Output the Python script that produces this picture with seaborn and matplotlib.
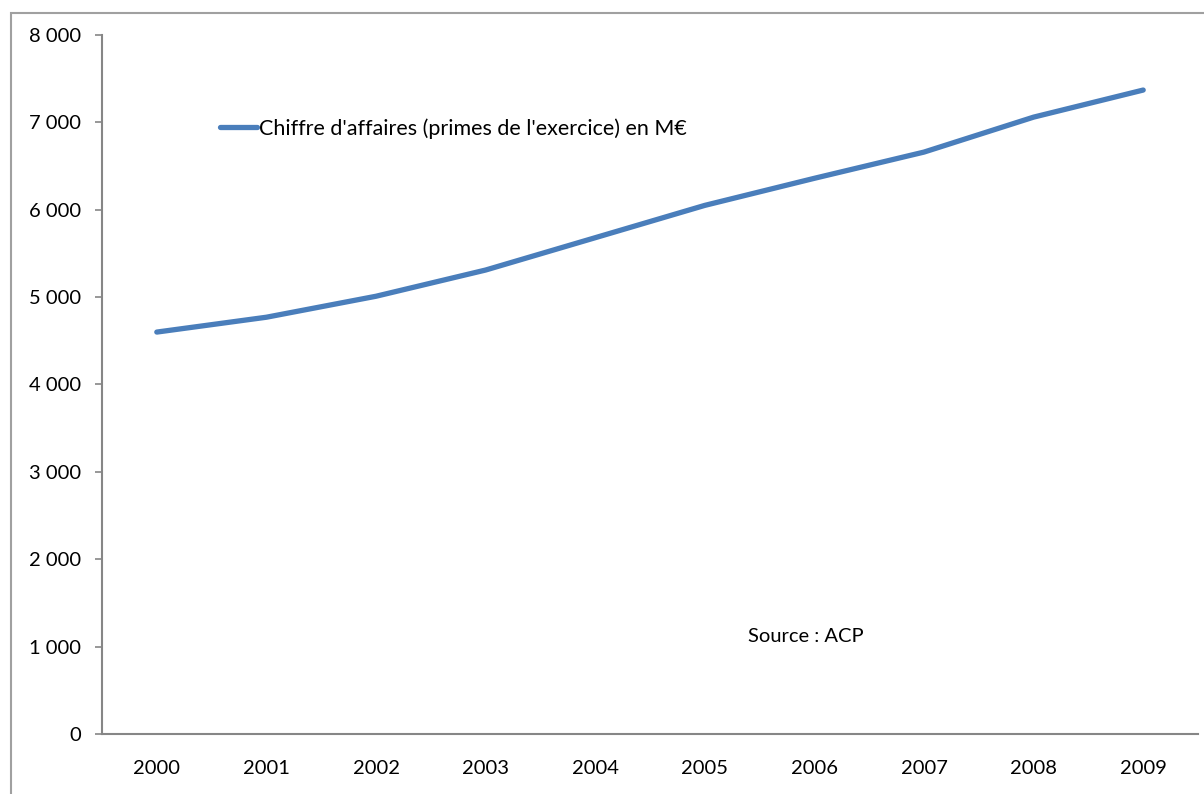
import pandas as pd
import seaborn as sns
import matplotlib.pyplot as plt
from matplotlib.patches import Rectangle
from matplotlib.ticker import FuncFormatter

years = [2000, 2001, 2002, 2003, 2004, 2005, 2006, 2007, 2008, 2009]
chiffre = [4600, 4770, 5010, 5310, 5680, 6050, 6360, 6660, 7060, 7370]
series_label = "Chiffre d'affaires (primes de l'exercice) en M€"
source_text = "Source : ACP"

df = pd.DataFrame({"Année": years, "Valeur": chiffre})

sns.set_style("white")
plt.rcParams["font.family"] = ["Lato", "DejaVu Sans"]
plt.rcParams["text.color"] = "black"
plt.rcParams["xtick.labelcolor"] = "black"
plt.rcParams["ytick.labelcolor"] = "black"

fig = plt.figure(figsize=(12.04, 7.94), dpi=100)
ax = fig.add_axes([102 / 1204, 60 / 794, 1096 / 1204, 699 / 794])

sns.lineplot(data=df, x="Année", y="Valeur", color="#4a7ebb", linewidth=3.8,
             solid_capstyle="round", label=series_label, ax=ax)

ax.set_xlim(1999.5, 2009.5)
ax.set_ylim(0, 8000)
ax.set_xticks(years)
ax.set_xticklabels([str(y) for y in years])
ax.set_yticks(range(0, 8001, 1000))
ax.yaxis.set_major_formatter(FuncFormatter(lambda v, p: f"{int(v):,}".replace(",", " ")))
ax.set_xlabel("")
ax.set_ylabel("")

for side in ["top", "right"]:
    ax.spines[side].set_visible(False)
for side in ["left", "bottom"]:
    ax.spines[side].set_color("#868686")
    ax.spines[side].set_linewidth(1.5)

ax.tick_params(axis="y", length=5, width=1.2, color="#868686", pad=10,
               labelsize=14.5, left=True)
ax.tick_params(axis="x", length=0, pad=19, labelsize=14.5)

leg = ax.legend(loc="upper left", bbox_to_anchor=(0.1, 0.893), frameon=False,
                fontsize=15.5, handlelength=1.7, handletextpad=0.1,
                borderaxespad=0)

ax.text(806 / 1204, 1 - 636 / 794, source_text, transform=fig.transFigure,
        ha="center", va="center", fontsize=14.5)

# outer chart-area frame
fig.patches.append(Rectangle((11 / 1204, -0.1), 1.2, 0.1 + 1 - 13 / 794,
                             transform=fig.transFigure, fill=False,
                             edgecolor="#a0a0a0", linewidth=1.5))

fig.savefig("out.png", dpi=100)
plt.close()
